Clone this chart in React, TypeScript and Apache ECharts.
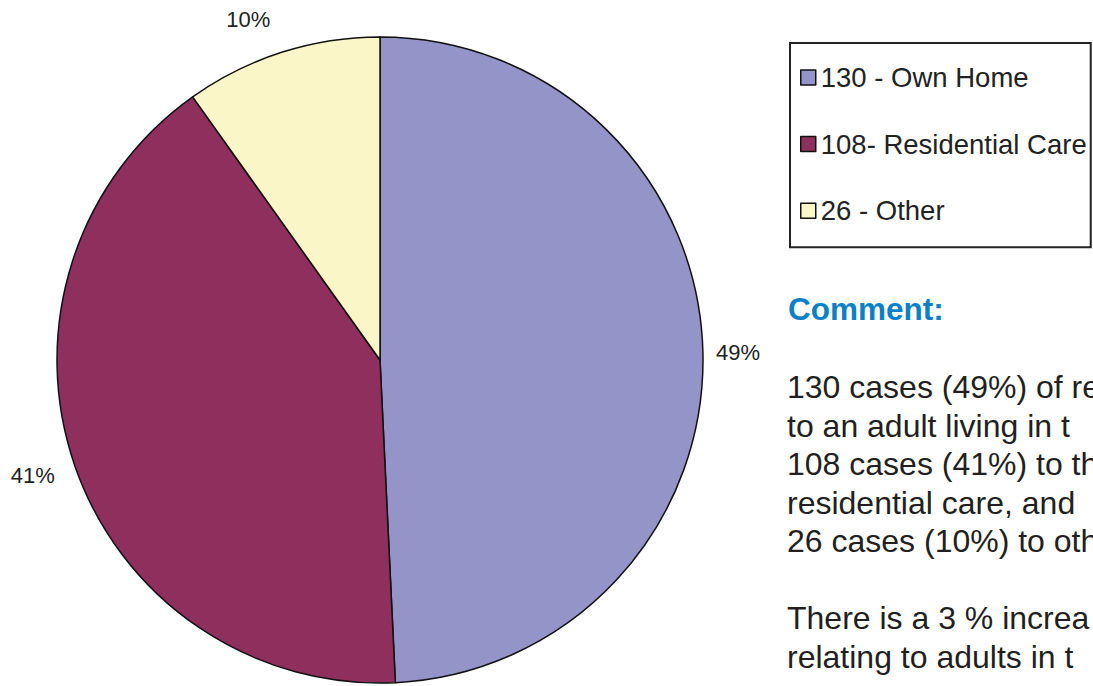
import React, { useEffect, useRef } from 'react';
import * as echarts from 'echarts';

// ---- data ----
const categories = ['130 - Own Home', '108- Residential Care', '26 - Other'];
const values = [130, 108, 26];
const sliceColors = ['#9494C8', '#8E2F5D', '#FAF6C8'];

const commentTitle = 'Comment:';
const commentLines = [
  '130 cases (49%) of re',
  'to an adult living in t',
  '108 cases (41%) to th',
  'residential care, and',
  '26 cases (10%) to oth',
  '',
  'There is a 3 % increa',
  'relating to adults in t',
];

// label offsets per slice (label-line lengths, line hidden)
const labelLen = [4, 30, 34];
const labelLen2 = [4, -13.5, -4];

export default function App() {
  const ref = useRef<HTMLDivElement>(null);

  useEffect(() => {
    if (!ref.current) return;
    const chart = echarts.init(ref.current, undefined, { renderer: 'svg' });
    const option: any = {
      animation: false,
      backgroundColor: '#ffffff',
      legend: {
        orient: 'vertical',
        left: 790,
        top: 43,
        icon: 'rect',
        itemWidth: 15,
        itemHeight: 15,
        itemGap: 36.6,
        padding: [19.5, 4, 21.5, 10],
        borderColor: '#222',
        borderWidth: 2,
        selectedMode: false,
        itemStyle: { borderColor: '#111', borderWidth: 1.5 },
        textStyle: {
          fontFamily: '"Liberation Sans", Arial, sans-serif',
          fontSize: 27.5,
          lineHeight: 30,
          color: '#222',
        },
        data: categories,
      },
      series: [
        {
          type: 'pie',
          center: [380, 360],
          radius: 323,
          startAngle: 90,
          clockwise: true,
          avoidLabelOverlap: false,
          emphasis: { disabled: true },
          itemStyle: { borderColor: '#111', borderWidth: 1.5 },
          label: {
            show: true,
            position: 'outside',
            formatter: (p: any) => Math.round(p.percent) + '%',
            fontFamily: '"Liberation Sans", Arial, sans-serif',
            fontSize: 22,
            color: '#222',
          },
          labelLine: { show: false },
          data: values.map((v, i) => ({
            value: v,
            name: categories[i],
            itemStyle: { color: sliceColors[i] },
            labelLine: { show: false, length: labelLen[i], length2: labelLen2[i] },
          })),
        },
      ],
      graphic: [
        {
          type: 'text',
          x: 788,
          y: 308.7,
          style: {
            text: commentTitle,
            font: 'bold 31.5px "Liberation Sans", Arial, sans-serif',
            fill: '#0A80C8',
            verticalAlign: 'middle',
          },
        },
        {
          type: 'text',
          x: 787,
          y: 367.75,
          style: {
            text: commentLines.join('\n'),
            font: '32px "Liberation Sans", Arial, sans-serif',
            lineHeight: 38.5,
            fill: '#231F20',
            verticalAlign: 'top',
          },
        },
      ],
    };
    chart.setOption(option);
    return () => chart.dispose();
  }, []);

  return (
    <div
      ref={ref}
      style={{ position: 'absolute', left: 0, top: 0, width: 1093, height: 686 }}
    />
  );
}
